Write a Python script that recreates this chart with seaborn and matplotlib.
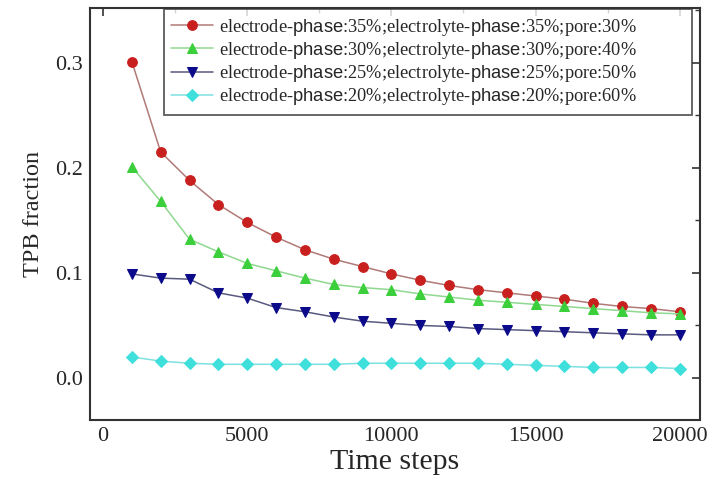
import seaborn as sns
import numpy as np
import pandas as pd
import matplotlib as mpl
import matplotlib.pyplot as plt

sns.set_style('white')
plt.rcParams['font.family'] = ['Liberation Serif', 'DejaVu Serif']
plt.rcParams['mathtext.fontset'] = 'custom'
plt.rcParams['mathtext.sf'] = 'Liberation Sans'
plt.rcParams['mathtext.rm'] = 'Liberation Serif'

steps = list(range(1000, 20001, 1000))

tpb_35 = [0.301, 0.215, 0.188, 0.165, 0.148, 0.134, 0.122, 0.113, 0.106, 0.099,
          0.093, 0.088, 0.084, 0.081, 0.078, 0.075, 0.071, 0.068, 0.066, 0.063]
tpb_30 = [0.201, 0.168, 0.132, 0.120, 0.109, 0.102, 0.095, 0.089, 0.086, 0.084,
          0.080, 0.077, 0.074, 0.072, 0.070, 0.068, 0.066, 0.064, 0.062, 0.061]
tpb_25 = [0.099, 0.095, 0.094, 0.081, 0.076, 0.067, 0.063, 0.058, 0.054, 0.052,
          0.050, 0.049, 0.047, 0.046, 0.045, 0.044, 0.043, 0.042, 0.041, 0.041]
tpb_20 = [0.020, 0.016, 0.014, 0.013, 0.013, 0.013, 0.013, 0.013, 0.014, 0.014,
          0.014, 0.014, 0.014, 0.013, 0.012, 0.011, 0.010, 0.010, 0.010, 0.009]

labels = [
    r'electrode-$\mathsf{phase}$:35%;electrolyte-$\mathsf{phase}$:35%;pore:30%',
    r'electrode-$\mathsf{phase}$:30%;electrolyte-$\mathsf{phase}$:30%;pore:40%',
    r'electrode-$\mathsf{phase}$:25%;electrolyte-$\mathsf{phase}$:25%;pore:50%',
    r'electrode-$\mathsf{phase}$:20%;electrolyte-$\mathsf{phase}$:20%;pore:60%',
]

df = pd.DataFrame({
    'Time steps': steps * 4,
    'TPB fraction': tpb_35 + tpb_30 + tpb_25 + tpb_20,
    'Kind': [k for k in labels for _ in steps],
})

line_colors = ['#b07a78', '#8fd88f', '#5a5a80', '#7fe0e0']
face_colors = ['#c8201e', '#3ccf3c', '#0a0a8a', '#3fe0dc']
markers = ['o', '^', 'v', 'D']

fig = plt.figure(figsize=(7.22, 4.86), dpi=100)
ax = fig.add_axes([0.1247, 0.1358, 0.8448, 0.8477])

g = sns.lineplot(data=df, x='Time steps', y='TPB fraction', hue='Kind', style='Kind',
                 markers=markers, dashes=False, palette=line_colors, legend=False,
                 linewidth=1.1, markersize=7, ax=ax)

for ln, fc, lab in zip(ax.lines, face_colors, labels):
    ln.set_markerfacecolor(fc)
    ln.set_markeredgecolor(fc)
    ln.set_label(lab)
ax.lines[3].set_markersize(6)

# legend box stretched to the right spine, text left aligned
ax.legend(handles=ax.lines[:4], labels=labels, loc='upper left', mode='expand',
          bbox_to_anchor=(0.121, 0.0, 0.866, 0.997), fontsize=13.2, frameon=True,
          fancybox=False, edgecolor='#333333', handlelength=2.3, borderpad=0.4,
          labelspacing=0.12, handletextpad=0.3, borderaxespad=0.0)
ax.get_legend().get_frame().set_linewidth(1.3)

ax.set_xlim(-450, 20700)
ax.set_ylim(-0.04, 0.352)
ax.set_xticks([0, 5000, 10000, 15000, 20000])
ax.set_yticks([0.0, 0.1, 0.2, 0.3])
ax.xaxis.set_minor_locator(mpl.ticker.MultipleLocator(2500))
ax.yaxis.set_minor_locator(mpl.ticker.MultipleLocator(0.05))
ax.tick_params(which='both', direction='in', top=True, right=True, labelsize=16, color='#333333')
ax.tick_params(which='major', length=6, width=1.2, pad=5)
ax.tick_params(which='minor', length=3.5, width=1)
for s in ax.spines.values():
    s.set_linewidth(1.5)
    s.set_color('#333333')

g.set_xlabel('Time steps', fontsize=21.5, labelpad=2)
g.set_ylabel('TPB fraction', fontsize=17.5, labelpad=8)

plt.savefig('out.png', dpi=100)
